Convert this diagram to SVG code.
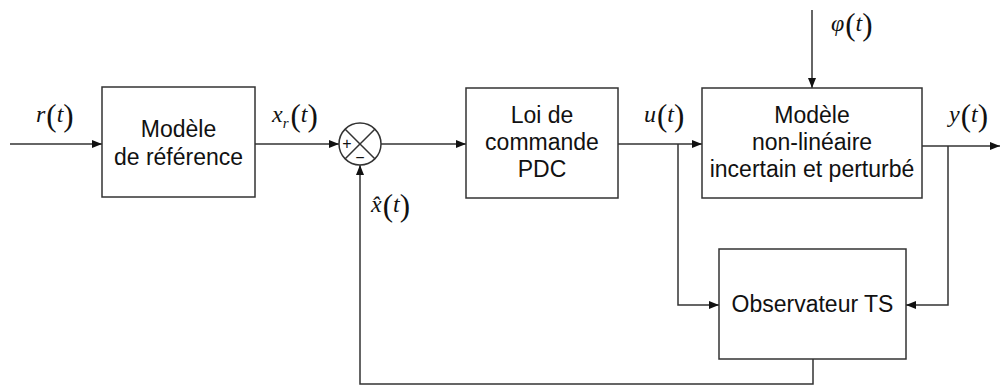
<svg xmlns="http://www.w3.org/2000/svg" width="1001" height="386" viewBox="0 0 1001 386">
<style>
.box{fill:#fff;stroke:#333;stroke-width:1.5}
.ln{fill:none;stroke:#333;stroke-width:1.5}
.t{font-family:"Liberation Sans",Arial,sans-serif;font-size:23px;fill:#111;text-anchor:middle}
.m{font-family:"Liberation Serif","Times New Roman",serif;font-style:italic;font-size:24px;fill:#111}
.sub{font-family:"Liberation Serif","Times New Roman",serif;font-style:italic;font-size:15px;fill:#111}
.p{font-family:"Liberation Serif","Times New Roman",serif;font-size:31px;fill:#111}
.s{font-family:"Liberation Sans",Arial,sans-serif;font-size:16px;fill:#111;text-anchor:middle}
</style>
<defs>
<marker id="ah" viewBox="0 0 10 8" refX="10" refY="4" markerWidth="10" markerHeight="8" markerUnits="userSpaceOnUse" orient="auto">
<path d="M0,0 L10,4 L0,8 Z" fill="#111"/>
</marker>
</defs>
<rect width="1001" height="386" fill="#fff"/>
<g id="connectors">
<line class="ln" x1="10" y1="144" x2="102" y2="144" marker-end="url(#ah)"/>
<line class="ln" x1="255" y1="144" x2="339" y2="144" marker-end="url(#ah)"/>
<line class="ln" x1="381" y1="144" x2="466" y2="144" marker-end="url(#ah)"/>
<line class="ln" x1="618" y1="144" x2="702" y2="144" marker-end="url(#ah)"/>
<polyline class="ln" points="678,144 678,305 719,305" marker-end="url(#ah)"/>
<line class="ln" x1="922" y1="146" x2="1000" y2="146" marker-end="url(#ah)"/>
<polyline class="ln" points="948,146 948,305 906,305" marker-end="url(#ah)"/>
<polyline class="ln" points="813,359 813,384 360,384 360,165" marker-end="url(#ah)"/>
<line class="ln" x1="812" y1="10" x2="812" y2="88" marker-end="url(#ah)"/>
</g>
<g id="ref">
<rect class="box" x="102" y="87" width="153" height="110"/>
<text class="t" x="178.5" y="137">Modèle</text>
<text class="t" x="178.5" y="165">de référence</text>
</g>
<g id="sum">
<circle class="box" cx="360" cy="144" r="21"/>
<line class="ln" x1="345.2" y1="129.2" x2="374.8" y2="158.8"/>
<line class="ln" x1="374.8" y1="129.2" x2="345.2" y2="158.8"/>
<text class="s" x="347" y="149">+</text>
<text class="s" x="360" y="163">−</text>
</g>
<g id="loi">
<rect class="box" x="466" y="88" width="152" height="110"/>
<text class="t" x="542" y="123">Loi de</text>
<text class="t" x="542" y="150">commande</text>
<text class="t" x="542" y="177">PDC</text>
</g>
<g id="modele">
<rect class="box" x="702" y="88" width="220" height="110"/>
<text class="t" x="812" y="123">Modèle</text>
<text class="t" x="812" y="150">non-linéaire</text>
<text class="t" x="812" y="177">incertain et perturbé</text>
</g>
<g id="observateur">
<rect class="box" x="719" y="249" width="187" height="110"/>
<text class="t" x="812.5" y="312">Observateur TS</text>
</g>
<g id="labels">
<text x="36" y="122"><tspan class="m">r</tspan><tspan class="p" dx="1" dy="4">(</tspan><tspan class="m" dy="-4">t</tspan><tspan class="p" dy="4">)</tspan></text>
<text x="272" y="122"><tspan class="m">x</tspan><tspan class="sub" dy="6">r</tspan><tspan class="p" dx="2" dy="-2">(</tspan><tspan class="m" dy="-4">t</tspan><tspan class="p" dy="4">)</tspan></text>
<text x="644" y="122"><tspan class="m">u</tspan><tspan class="p" dx="1" dy="4">(</tspan><tspan class="m" dy="-4">t</tspan><tspan class="p" dy="4">)</tspan></text>
<text x="949" y="122"><tspan class="m">y</tspan><tspan class="p" dx="1" dy="4">(</tspan><tspan class="m" dy="-4">t</tspan><tspan class="p" dy="4">)</tspan></text>
<text x="831" y="31"><tspan class="m">φ</tspan><tspan class="p" dx="1" dy="4">(</tspan><tspan class="m" dy="-4">t</tspan><tspan class="p" dy="4">)</tspan></text>
<text x="371" y="212"><tspan class="m">x̂</tspan><tspan class="p" dx="1" dy="4">(</tspan><tspan class="m" dy="-4">t</tspan><tspan class="p" dy="4">)</tspan></text>
</g>
</svg>
